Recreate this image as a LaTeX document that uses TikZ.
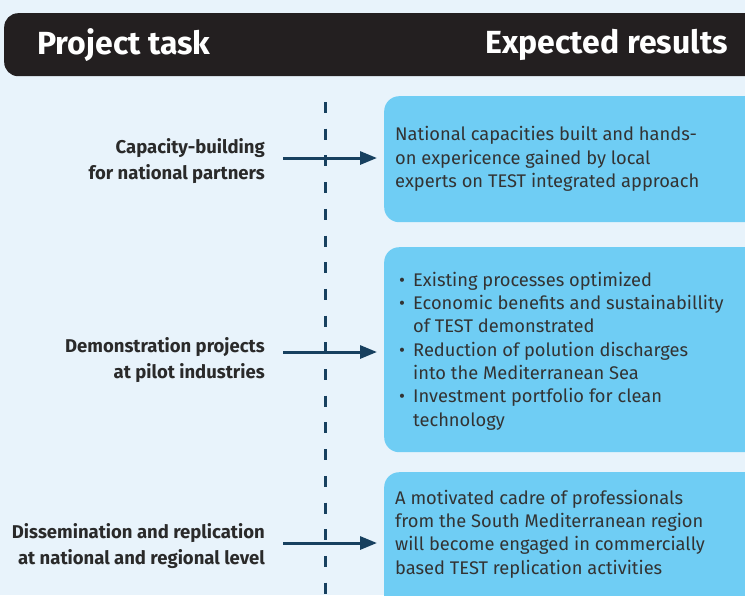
\documentclass[tikz,border=0pt]{standalone}
\usepackage{fontspec}
\setmainfont{Fira Sans}
\usetikzlibrary{arrows.meta}
\definecolor{bgc}{HTML}{E8F3FB}
\definecolor{barc}{HTML}{231F20}
\definecolor{navy}{HTML}{17405F}
\definecolor{boxc}{HTML}{6FCDF4}
\definecolor{txtc}{HTML}{2A2A2A}
\definecolor{restc}{HTML}{333333}
\newcommand{\bul}{\makebox[16pt][l]{\hspace{2pt}\textbullet}}
\newcommand{\nob}{\makebox[16pt][l]{}}
\tikzset{
  resbox/.style={fill=boxc, draw=none, rounded corners=15pt, inner sep=0pt, anchor=north west},
  restext/.style={anchor=west, align=left, inner sep=0pt, text=restc, font=\fontsize{18.3}{23.3}\selectfont},
  tasklabel/.style={anchor=east, align=right, inner sep=0pt, text=txtc, font=\fontsize{18.5}{26}\selectfont\bfseries},
  headtext/.style={text=white, inner sep=0pt, font=\fontsize{32}{34}\selectfont\bfseries},
  arr/.style={draw=navy, line width=3pt, -{Triangle[length=17pt,width=13pt]}},
  dashline/.style={draw=navy, line width=3pt, dash pattern=on 11pt off 15.7pt}
}
\begin{document}
\begin{tikzpicture}[x=1pt,y=-1pt]
\useasboundingbox (0,0) rectangle (745,595);
\clip (0,0) rectangle (745,595);
\fill[bgc] (0,0) rectangle (745,595);
% header
\node[fill=barc, rounded corners=14pt, minimum width=760pt, minimum height=63pt, anchor=north west, inner sep=0pt] (header) at (4,13) {};
\node[headtext, anchor=west] (hleft) at (37,45) {Project task};
\node[headtext, anchor=east] (hright) at (728,45) {Expected results};
% dashed line
\coordinate (dtop) at (325,102);
\coordinate (dbot) at (325,600);
\draw[dashline] (dtop) -- (dbot);
% result boxes
\node[resbox, minimum width=380pt, minimum height=126pt] (r1) at (384,96) {};
\node[resbox, minimum width=380pt, minimum height=205pt] (r2) at (384,247) {};
\node[resbox, minimum width=380pt, minimum height=150pt] (r3) at (384,472) {};
% result texts
\node[restext] (x1) at (395,159) {National capacities built and hands-\\on expericence gained by local\\experts on TEST integrated approach};
\node[restext] (x2) at (397,351) {\bul Existing processes optimized\\
\bul Economic benefits and sustainabillity\\
\nob of TEST demonstrated\\
\bul Reduction of polution discharges\\
\nob into the Mediterranean Sea\\
\bul Investment portfolio for clean\\
\nob technology};
\node[restext] (x3) at (395,534) {A motivated cadre of professionals\\from the South Mediterranean region\\will become engaged in commercially\\based TEST replication activities};
% task labels
\node[tasklabel] (t1) at (265,161) {Capacity-building\\for national partners};
\node[tasklabel] (t2) at (265,360) {Demonstration projects\\at pilot industries};
\node[tasklabel] (t3) at (265,546) {Dissemination and replication\\at national and regional level};
% arrows
\coordinate (a1) at (283,158);
\coordinate (a2) at (283,352);
\coordinate (a3) at (283,543);
\draw[arr, shorten >=7pt] (a1) -- (a1 -| r1.west);
\draw[arr, shorten >=7pt] (a2) -- (a2 -| r2.west);
\draw[arr, shorten >=7pt] (a3) -- (a3 -| r3.west);
\end{tikzpicture}
\end{document}
